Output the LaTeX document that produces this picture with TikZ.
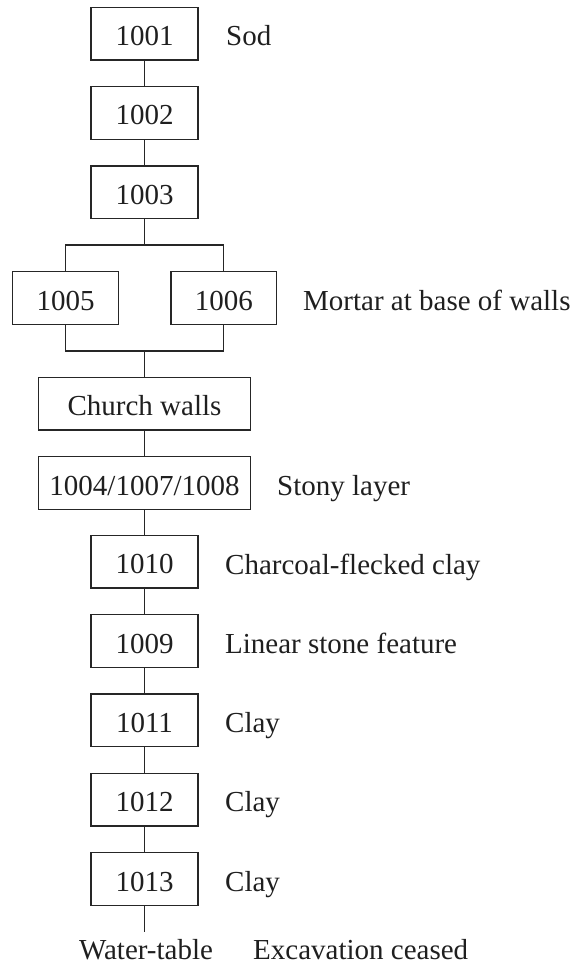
\documentclass[tikz,border=0pt]{standalone}
\usepackage{fontspec}
\setmainfont{Liberation Serif}
\begin{document}
\begin{tikzpicture}[x=1pt,y=-1pt,
  every node/.style={font=\fontsize{29}{34}\selectfont, text=black!88},
  unit/.style={draw=black!85, line width=1.3pt, rectangle, inner sep=0pt,
    minimum width=107pt, minimum height=52.7pt, text height=24pt, text depth=0pt},
  wideunit/.style={unit, minimum width=211.5pt},
  sideunit/.style={unit, minimum width=105.7pt},
  note/.style={anchor=base west, inner sep=0pt},
  link/.style={draw=black!85, line width=1.3pt}]
\useasboundingbox (0,0) rectangle (579,965);

% stratigraphic units, top to bottom
\node[unit] (u1001) at (144.5,33.7) {1001};
\node[unit] (u1002) at (144.5,113) {1002};
\node[unit] (u1003) at (144.5,192.5) {1003};
\node[sideunit] (u1005) at (65.5,298) {1005};
\node[sideunit] (u1006) at (223.8,298) {1006};
\node[wideunit] (walls) at (144.5,403.7) {Church walls};
\node[wideunit] (stony) at (144.5,483) {1004/1007/1008};
\node[unit] (u1010) at (144.5,561.7) {1010};
\node[unit] (u1009) at (144.5,641) {1009};
\node[unit] (u1011) at (144.5,720.3) {1011};
\node[unit] (u1012) at (144.5,799.6) {1012};
\node[unit] (u1013) at (144.5,879) {1013};

% descriptions
\node[note] (dSod) at (226,46) {Sod};
\node[note] (dMortar) at (303,310) {Mortar at base of walls};
\node[note] (dStony) at (277,495) {Stony layer};
\node[note] (dCharcoal) at (225,574) {Charcoal-flecked clay};
\node[note] (dLinear) at (225,653) {Linear stone feature};
\node[note] (dClay1) at (225,732.3) {Clay};
\node[note] (dClay2) at (225,811.6) {Clay};
\node[note] (dClay3) at (225,891) {Clay};

% bottom of the sequence
\coordinate (tail) at (144.5,931.7);
\node[anchor=base, inner sep=0pt] (water) at (146,959) {Water-table};
\node[note] (ceased) at (253,959) {Excavation ceased};

% connectors
\coordinate (split) at (144.5,245);
\coordinate (join) at (144.5,351);
\draw[link] (u1001.south) -- (u1002.north);
\draw[link] (u1002.south) -- (u1003.north);
\draw[link] (u1003.south) -- (split);
\draw[link] (u1005.north) |- (split) -| (u1006.north);
\draw[link] (u1005.south) |- (join) -| (u1006.south);
\draw[link] (join) -- (walls.north);
\draw[link] (walls.south) -- (stony.north);
\draw[link] (stony.south) -- (u1010.north);
\draw[link] (u1010.south) -- (u1009.north);
\draw[link] (u1009.south) -- (u1011.north);
\draw[link] (u1011.south) -- (u1012.north);
\draw[link] (u1012.south) -- (u1013.north);
\draw[link] (u1013.south) -- (tail);
\end{tikzpicture}
\end{document}
